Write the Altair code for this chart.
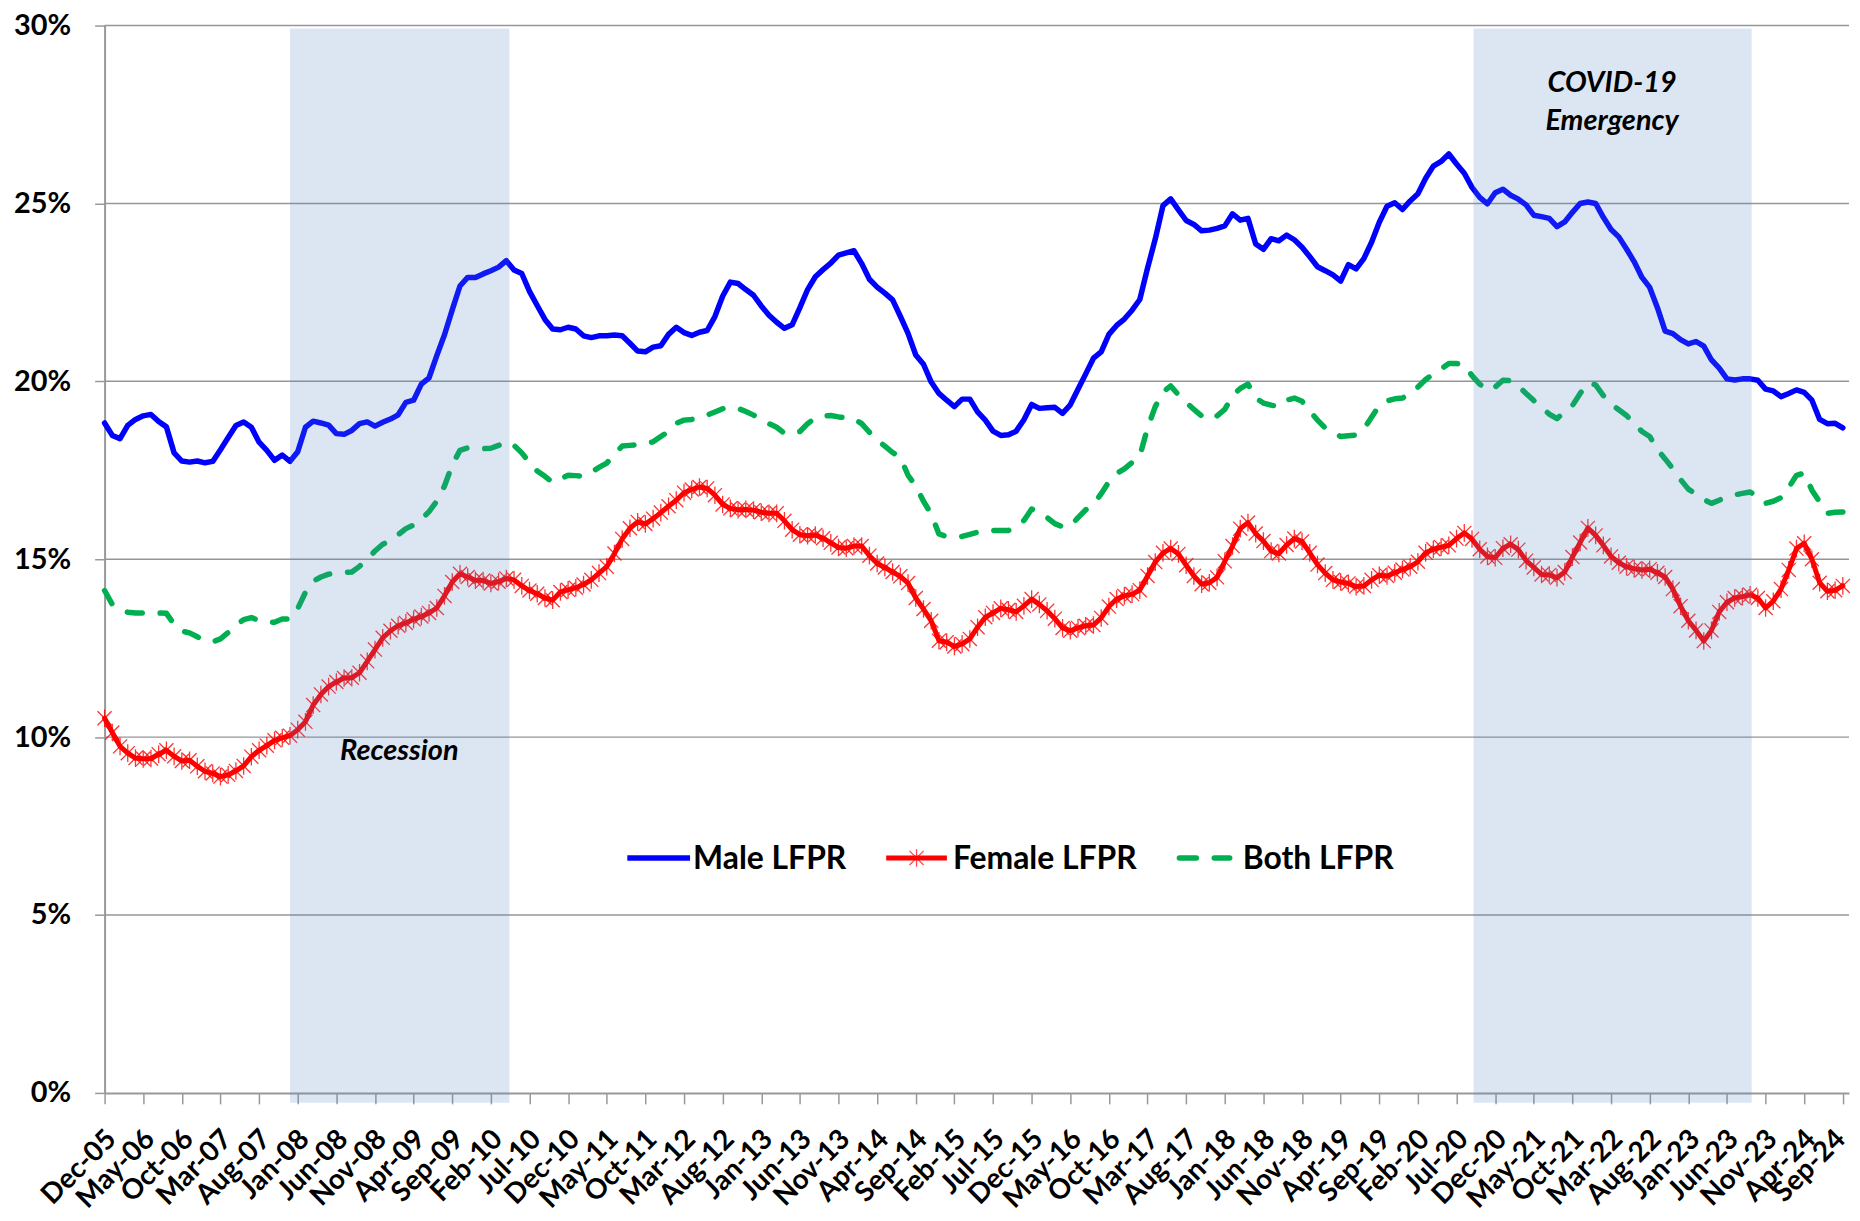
import altair as alt
import pandas as pd

tick_labels = ["Dec-05", "May-06", "Oct-06", "Mar-07", "Aug-07", "Jan-08", "Jun-08", "Nov-08",
               "Apr-09", "Sep-09", "Feb-10", "Jul-10", "Dec-10", "May-11", "Oct-11", "Mar-12",
               "Aug-12", "Jan-13", "Jun-13", "Nov-13", "Apr-14", "Sep-14", "Feb-15", "Jul-15",
               "Dec-15", "May-16", "Oct-16", "Mar-17", "Aug-17", "Jan-18", "Jun-18", "Nov-18",
               "Apr-19", "Sep-19", "Feb-20", "Jul-20", "Dec-20", "May-21", "Oct-21", "Mar-22",
               "Aug-22", "Jan-23", "Jun-23", "Nov-23", "Apr-24", "Sep-24"]

# monthly values, Dec-05 .. Sep-24 (percent)
male = [18.83, 18.48, 18.39, 18.76, 18.93, 19.03, 19.07, 18.87, 18.72, 17.99,
        17.76, 17.73, 17.76, 17.71, 17.75, 18.08, 18.42, 18.76, 18.86, 18.71,
        18.29, 18.06, 17.78, 17.93, 17.75, 18.02, 18.71, 18.88, 18.83, 18.77,
        18.53, 18.51, 18.62, 18.81, 18.86, 18.74, 18.85, 18.94, 19.06, 19.41,
        19.47, 19.92, 20.10, 20.72, 21.31, 22.01, 22.68, 22.92, 22.92, 23.02,
        23.11, 23.21, 23.39, 23.13, 23.03, 22.53, 22.13, 21.74, 21.47, 21.45,
        21.52, 21.47, 21.28, 21.23, 21.28, 21.28, 21.30, 21.28, 21.07, 20.85,
        20.83, 20.96, 21.00, 21.32, 21.52, 21.37, 21.29, 21.38, 21.43, 21.82,
        22.39, 22.79, 22.75, 22.58, 22.42, 22.12, 21.86, 21.66, 21.49, 21.59,
        22.07, 22.58, 22.94, 23.14, 23.32, 23.55, 23.61, 23.67, 23.31, 22.87,
        22.65, 22.48, 22.29, 21.83, 21.35, 20.74, 20.48, 19.98, 19.66, 19.47,
        19.29, 19.50, 19.50, 19.14, 18.91, 18.60, 18.48, 18.50, 18.60, 18.92,
        19.35, 19.24, 19.26, 19.27, 19.10, 19.34, 19.78, 20.21, 20.65, 20.83,
        21.32, 21.57, 21.75, 22.00, 22.30, 23.18, 24.00, 24.94, 25.13, 24.82,
        24.52, 24.41, 24.23, 24.25, 24.30, 24.37, 24.71, 24.53, 24.58, 23.86,
        23.71, 24.01, 23.95, 24.11, 23.98, 23.77, 23.50, 23.22, 23.11, 22.99,
        22.82, 23.28, 23.16, 23.45, 23.91, 24.47, 24.92, 25.02, 24.83, 25.07,
        25.27, 25.71, 26.05, 26.18, 26.39, 26.11, 25.85, 25.45, 25.17, 24.99,
        25.30, 25.40, 25.23, 25.12, 24.96, 24.67, 24.63, 24.58, 24.35, 24.48,
        24.75, 25.00, 25.04, 25.00, 24.61, 24.27, 24.06, 23.72, 23.36, 22.92,
        22.64, 22.07, 21.41, 21.34, 21.17, 21.05, 21.12, 20.99, 20.60, 20.37,
        20.07, 20.04, 20.07, 20.07, 20.03, 19.78, 19.73, 19.57, 19.66, 19.76,
        19.69, 19.47, 18.93, 18.81, 18.82, 18.69]

female = [10.53, 10.13, 9.74, 9.55, 9.41, 9.39, 9.40, 9.52, 9.63, 9.46,
          9.33, 9.35, 9.18, 9.04, 8.98, 8.89, 8.94, 9.05, 9.19, 9.45,
          9.63, 9.76, 9.91, 9.98, 10.04, 10.21, 10.43, 10.90, 11.20, 11.42,
          11.55, 11.66, 11.67, 11.81, 12.13, 12.46, 12.79, 12.99, 13.13, 13.21,
          13.31, 13.39, 13.49, 13.63, 13.97, 14.36, 14.59, 14.50, 14.41, 14.40,
          14.32, 14.37, 14.46, 14.42, 14.25, 14.12, 14.03, 13.91, 13.85, 14.08,
          14.14, 14.20, 14.29, 14.42, 14.61, 14.79, 15.16, 15.57, 15.87, 16.05,
          15.99, 16.14, 16.31, 16.49, 16.66, 16.87, 16.96, 17.03, 16.99, 16.80,
          16.54, 16.43, 16.39, 16.40, 16.38, 16.32, 16.29, 16.29, 16.08, 15.83,
          15.69, 15.66, 15.68, 15.59, 15.46, 15.33, 15.31, 15.37, 15.37, 15.10,
          14.88, 14.77, 14.64, 14.52, 14.33, 13.91, 13.60, 13.27, 12.71, 12.67,
          12.55, 12.62, 12.76, 13.09, 13.37, 13.49, 13.62, 13.58, 13.52, 13.69,
          13.88, 13.73, 13.55, 13.33, 13.07, 12.99, 13.07, 13.13, 13.15, 13.35,
          13.67, 13.88, 13.97, 14.02, 14.13, 14.53, 14.92, 15.18, 15.30, 15.15,
          14.83, 14.53, 14.30, 14.34, 14.49, 14.94, 15.37, 15.86, 16.03, 15.72,
          15.51, 15.23, 15.16, 15.40, 15.58, 15.50, 15.18, 14.85, 14.61, 14.42,
          14.36, 14.32, 14.23, 14.25, 14.42, 14.55, 14.53, 14.62, 14.71, 14.79,
          14.93, 15.18, 15.28, 15.34, 15.39, 15.58, 15.74, 15.57, 15.28, 15.08,
          15.04, 15.31, 15.42, 15.27, 14.96, 14.77, 14.57, 14.56, 14.48, 14.64,
          15.06, 15.47, 15.88, 15.67, 15.39, 15.08, 14.90, 14.79, 14.73, 14.70,
          14.72, 14.62, 14.50, 14.16, 13.68, 13.27, 13.00, 12.70, 13.00, 13.52,
          13.79, 13.91, 13.95, 14.00, 13.91, 13.63, 13.82, 14.16, 14.70, 15.30,
          15.45, 15.00, 14.34, 14.10, 14.13, 14.25]

both = [14.12, 13.73, 13.59, 13.51, 13.49, 13.49, 13.49, 13.49, 13.48, 13.17,
        12.98, 12.93, 12.82, 12.71, 12.68, 12.76, 12.94, 13.15, 13.30, 13.36,
        13.28, 13.23, 13.23, 13.32, 13.32, 13.61, 14.07, 14.38, 14.50, 14.58,
        14.61, 14.63, 14.64, 14.80, 15.01, 15.23, 15.42, 15.52, 15.69, 15.86,
        15.96, 16.12, 16.34, 16.63, 17.06, 17.65, 18.06, 18.13, 18.12, 18.11,
        18.12, 18.20, 18.30, 18.20, 17.99, 17.72, 17.48, 17.33, 17.16, 17.26,
        17.36, 17.35, 17.33, 17.45, 17.58, 17.70, 17.96, 18.18, 18.20, 18.22,
        18.24, 18.30, 18.45, 18.59, 18.82, 18.91, 18.93, 18.98, 19.05, 19.14,
        19.23, 19.27, 19.24, 19.15, 19.05, 18.93, 18.81, 18.71, 18.54, 18.54,
        18.59, 18.81, 18.97, 19.03, 19.04, 19.00, 18.98, 18.95, 18.81, 18.57,
        18.35, 18.18, 18.00, 17.87, 17.36, 17.06, 16.63, 16.27, 15.71, 15.64,
        15.62, 15.64, 15.70, 15.76, 15.79, 15.81, 15.81, 15.81, 15.91, 16.09,
        16.41, 16.32, 16.17, 16.00, 15.91, 15.93, 16.17, 16.39, 16.55, 16.84,
        17.18, 17.41, 17.54, 17.72, 17.90, 18.69, 19.29, 19.70, 19.87, 19.62,
        19.41, 19.21, 19.03, 18.93, 19.03, 19.21, 19.60, 19.80, 19.92, 19.53,
        19.39, 19.33, 19.29, 19.47, 19.53, 19.44, 19.17, 18.91, 18.69, 18.57,
        18.45, 18.47, 18.49, 18.66, 18.99, 19.32, 19.45, 19.51, 19.53, 19.66,
        19.84, 20.05, 20.21, 20.35, 20.50, 20.50, 20.47, 20.16, 19.92, 19.75,
        19.84, 20.03, 20.02, 19.87, 19.66, 19.46, 19.26, 19.08, 18.95, 19.15,
        19.32, 19.66, 19.96, 19.90, 19.60, 19.36, 19.20, 19.04, 18.81, 18.59,
        18.45, 18.08, 17.82, 17.54, 17.24, 16.97, 16.83, 16.68, 16.57, 16.66,
        16.75, 16.81, 16.85, 16.89, 16.75, 16.57, 16.63, 16.73, 17.02, 17.36,
        17.42, 16.94, 16.61, 16.29, 16.32, 16.33]

# shaded periods (month index from Dec-05)
shade_names = ["Recession", "COVID-19 Emergency"]
shade_start = [24.0, 177.2]
shade_end = [52.4, 213.2]

y_ticks = [0, 5, 10, 15, 20, 25, 30]

n = len(male)
months = list(range(n))
df_male = pd.DataFrame({"m": months, "v": male})
df_female = pd.DataFrame({"m": months, "v": female})
df_both = pd.DataFrame({"m": months, "v": both})
df_shade = pd.DataFrame({"name": shade_names, "s": shade_start, "e": shade_end})
df_grid = pd.DataFrame({"g": y_ticks[1:]})
one = pd.DataFrame({"a": [0]})

W, H = 1752, 1072
FONT = "Lato"
xscale = alt.Scale(domain=[0, 225.8], nice=False, zero=False)
yscale = alt.Scale(domain=[0, 30], nice=False)

x_tick_values = list(range(0, 5 * len(tick_labels), 5))
label_js = "[" + ",".join("'" + t + "'" for t in tick_labels) + "][round(datum.value/5)]"
last_tick = x_tick_values[-1]

xaxis = alt.Axis(values=x_tick_values, labelExpr=label_js,
                 title=None, grid=False, domainColor="#999999", domainWidth=2,
                 tickColor="#999999", tickWidth=1.5, tickSize=11,
                 labelAngle=-45, labelAlign="right", labelBaseline="top",
                 labelPadding=21,
                 labelOffset={"condition": {"test": f"datum.value >= {last_tick}", "value": -12},
                              "value": -3},
                 labelFont=FONT, labelFontWeight="bold",
                 labelFontSize=28, labelColor="black", labelOverlap=False,
                 labelBound=False, labelFlush=False)
yaxis = alt.Axis(values=y_ticks, labelExpr="datum.value + '%'", title=None, grid=False,
                 domainColor="#999999", domainWidth=2, tickColor="#999999",
                 tickWidth=1.5, tickSize=10, labelPadding=24, labelFont=FONT,
                 labelFontWeight="bold", labelFontSize=29, labelColor="black",
                 labelOverlap=False, labelBound=False, labelFlush=False)

X = alt.X("m:Q", scale=xscale, axis=xaxis)
Y = alt.Y("v:Q", scale=yscale, axis=yaxis)

grid = alt.Chart(df_grid).mark_rule(color="#969696", strokeWidth=1.5).encode(
    y=alt.Y("g:Q", scale=yscale, axis=yaxis),
    x=alt.value(0), x2=alt.value(W))

line_male = alt.Chart(df_male).mark_line(color="#0000FF", strokeWidth=5.5,
                                          strokeJoin="round", strokeCap="round").encode(
    x=X, y=Y)

line_female = alt.Chart(df_female).mark_line(color="#FF0000", strokeWidth=5,
                                              strokeJoin="round", strokeCap="round").encode(
    x=X, y=Y)

star = "M-1,-1L1,1M-1,1L1,-1M0,-1.25L0,1.25"
pts_female = alt.Chart(df_female).mark_point(shape=star, filled=False, size=200,
                                              strokeWidth=1.3, color="#FF0000",
                                              opacity=0.8).encode(x=X, y=Y)

line_both = alt.Chart(df_both).mark_line(color="#00B050", strokeWidth=5.5,
                                          strokeDash=[15, 18], strokeCap="round",
                                          strokeJoin="round").encode(x=X, y=Y)

shade = alt.Chart(df_shade).mark_rect(color="#5082BE", opacity=0.2).encode(
    x=alt.X("s:Q", scale=xscale, axis=xaxis), x2="e:Q",
    y=alt.value(3), y2=alt.value(H + 10))

txt_style = dict(font=FONT, fontWeight="bold", fontStyle="italic", fontSize=29,
                 color="black", align="center", baseline="alphabetic")
t_rec = alt.Chart(one).mark_text(text="Recession", **txt_style).encode(
    x=alt.value(296), y=alt.value(738))
t_cov1 = alt.Chart(one).mark_text(text="COVID-19", **txt_style).encode(
    x=alt.value(1514), y=alt.value(67))
t_cov2 = alt.Chart(one).mark_text(text="Emergency", **txt_style).encode(
    x=alt.value(1514), y=alt.value(105))

# legend
LY = 836
LB = 847
lab_style = dict(font=FONT, fontWeight="bold", fontSize=32, color="black",
                 align="left", baseline="alphabetic")
leg = [
    alt.Chart(one).mark_rule(color="#0000FF", strokeWidth=5.5).encode(
        x=alt.value(525), x2=alt.value(588), y=alt.value(LY)),
    alt.Chart(one).mark_text(text="Male LFPR", **lab_style).encode(
        x=alt.value(591), y=alt.value(LB)),
    alt.Chart(one).mark_rule(color="#FF0000", strokeWidth=5).encode(
        x=alt.value(785), x2=alt.value(846), y=alt.value(LY)),
    alt.Chart(one).mark_point(shape=star, filled=False, size=200, strokeWidth=1.3,
                              color="#FF0000").encode(x=alt.value(815.5), y=alt.value(LY)),
    alt.Chart(one).mark_text(text="Female LFPR", **lab_style).encode(
        x=alt.value(852), y=alt.value(LB)),
    alt.Chart(one).mark_rule(color="#00B050", strokeWidth=5.5, strokeDash=[17, 18],
                             strokeCap="round").encode(
        x=alt.value(1079.5), x2=alt.value(1130), y=alt.value(LY)),
    alt.Chart(one).mark_text(text="Both LFPR", **lab_style).encode(
        x=alt.value(1143), y=alt.value(LB)),
]

chart = alt.layer(grid, line_male, line_both, line_female, pts_female, shade,
                  t_rec, t_cov1, t_cov2, *leg).properties(
    width=W, height=H,
    autosize=alt.AutoSizeParams(type="none"),
    padding={"left": 97, "top": 15, "right": 3, "bottom": 122},
).configure_view(strokeWidth=0)

chart.save("out.html", embed_options={"renderer": "svg", "actions": False})
